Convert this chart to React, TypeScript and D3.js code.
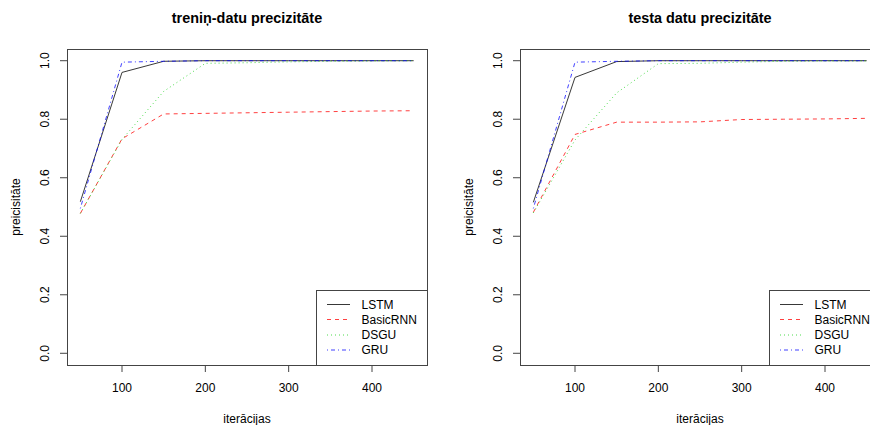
import React from "react";
import * as d3 from "d3";

const iterations = [50, 100, 150, 200, 250, 300, 350, 400, 450];
const seriesNames = ["LSTM", "BasicRNN", "DSGU", "GRU"];
const seriesColors = ["#222222", "#ff0000", "#00cc00", "#0000ff"];
const seriesOpacity = [0.9, 0.75, 0.7, 0.75];
const seriesDash = ["", "4,4", "1,3", "1,3,4,3"];

const trainLSTM = [0.518, 0.96, 0.998, 1.0, 1.0, 1.0, 1.0, 1.0, 1.0];
const trainBasicRNN = [0.478, 0.733, 0.818, 0.82, 0.822, 0.824, 0.826, 0.828, 0.829];
const trainDSGU = [0.478, 0.731, 0.895, 0.991, 0.993, 0.996, 0.998, 0.999, 1.0];
const trainGRU = [0.495, 0.995, 0.998, 1.0, 1.0, 1.0, 1.0, 1.0, 1.0];

const testLSTM = [0.516, 0.943, 0.997, 1.0, 1.0, 1.0, 1.0, 1.0, 1.0];
const testBasicRNN = [0.482, 0.748, 0.79, 0.79, 0.791, 0.799, 0.8, 0.801, 0.803];
const testDSGU = [0.48, 0.729, 0.89, 0.99, 0.991, 0.995, 0.998, 0.999, 0.999];
const testGRU = [0.495, 0.995, 0.998, 1.0, 1.0, 1.0, 1.0, 1.0, 1.0];

const xTicks = [100, 200, 300, 400];
const yTicks = [0.0, 0.2, 0.4, 0.6, 0.8, 1.0];

const titles = ["treniņ-datu precizitāte", "testa datu precizitāte"];
const xLabel = "iterācijas";
const yLabel = "preicisitāte";

const FONT = "'Liberation Sans', Arial, Helvetica, sans-serif";

function Panel({ ox, title, series }: { ox: number; title: string; series: number[][] }) {
  const left = 67, right = 427, top = 49, bottom = 365;
  const x = d3.scaleLinear().domain([34, 466]).range([left, right]);
  const y = d3.scaleLinear().domain([-0.04, 1.04]).range([bottom, top]);
  const line = d3
    .line<[number, number]>()
    .x((d) => x(d[0]))
    .y((d) => y(d[1]));
  const axisCol = "#444";
  const legX = 316, legTop = 290, legRight = 427;
  const legY = [304.5, 319.5, 335, 350];
  return (
    <g transform={`translate(${ox},0)`}>
      <text x={(left + right) / 2} y={23} textAnchor="middle" fontWeight="bold" fontSize={14.4} fontFamily={FONT} fill="#000">
        {title}
      </text>
      {series.map((vals, i) => (
        <path
          key={i}
          d={line(iterations.map((it, j) => [it, vals[j]] as [number, number])) || ""}
          fill="none"
          stroke={seriesColors[i]}
          strokeOpacity={seriesOpacity[i]}
          strokeWidth={1}
          strokeDasharray={seriesDash[i]}
        />
      ))}
      <rect x={left + 0.5} y={top + 0.5} width={right - left} height={bottom - top} fill="none" stroke={axisCol} strokeWidth={1} />
      {xTicks.map((t) => (
        <g key={t}>
          <line x1={x(t)} x2={x(t)} y1={bottom} y2={bottom + 7} stroke={axisCol} />
          <text x={x(t)} y={392} textAnchor="middle" fontSize={12} fontFamily={FONT} fill="#000">
            {t}
          </text>
        </g>
      ))}
      {yTicks.map((t) => (
        <g key={t}>
          <line x1={left} x2={left - 7} y1={y(t)} y2={y(t)} stroke={axisCol} />
          <text
            transform={`translate(${49},${y(t)}) rotate(-90)`}
            textAnchor="middle"
            fontSize={12}
            fontFamily={FONT}
            fill="#000"
          >
            {t.toFixed(1)}
          </text>
        </g>
      ))}
      <text x={(left + right) / 2} y={423} textAnchor="middle" fontSize={12} fontFamily={FONT} fill="#000">
        {xLabel}
      </text>
      <text transform={`translate(${20},${207}) rotate(-90)`} textAnchor="middle" fontSize={12} fontFamily={FONT} fill="#000">
        {yLabel}
      </text>
      <rect x={legX + 0.5} y={legTop + 0.5} width={legRight - legX} height={bottom - legTop} fill="#fff" stroke={axisCol} />
      {seriesNames.map((n, i) => (
        <g key={n}>
          <line
            x1={327}
            x2={350}
            y1={legY[i]}
            y2={legY[i]}
            stroke={seriesColors[i]}
            strokeOpacity={seriesOpacity[i]}
            strokeDasharray={seriesDash[i]}
          />
          <text x={361.5} y={legY[i] + 4.3} fontSize={12} fontFamily={FONT} fill="#000">
            {n}
          </text>
        </g>
      ))}
    </g>
  );
}

export default function App() {
  return (
    <svg
      width={870}
      height={425}
      style={{ position: "absolute", left: 0, top: 0, background: "#fff" }}
    >
      <rect width={870} height={425} fill="#fff" />
      <Panel ox={0} title={titles[0]} series={[trainLSTM, trainBasicRNN, trainDSGU, trainGRU]} />
      <Panel ox={453} title={titles[1]} series={[testLSTM, testBasicRNN, testDSGU, testGRU]} />
    </svg>
  );
}
